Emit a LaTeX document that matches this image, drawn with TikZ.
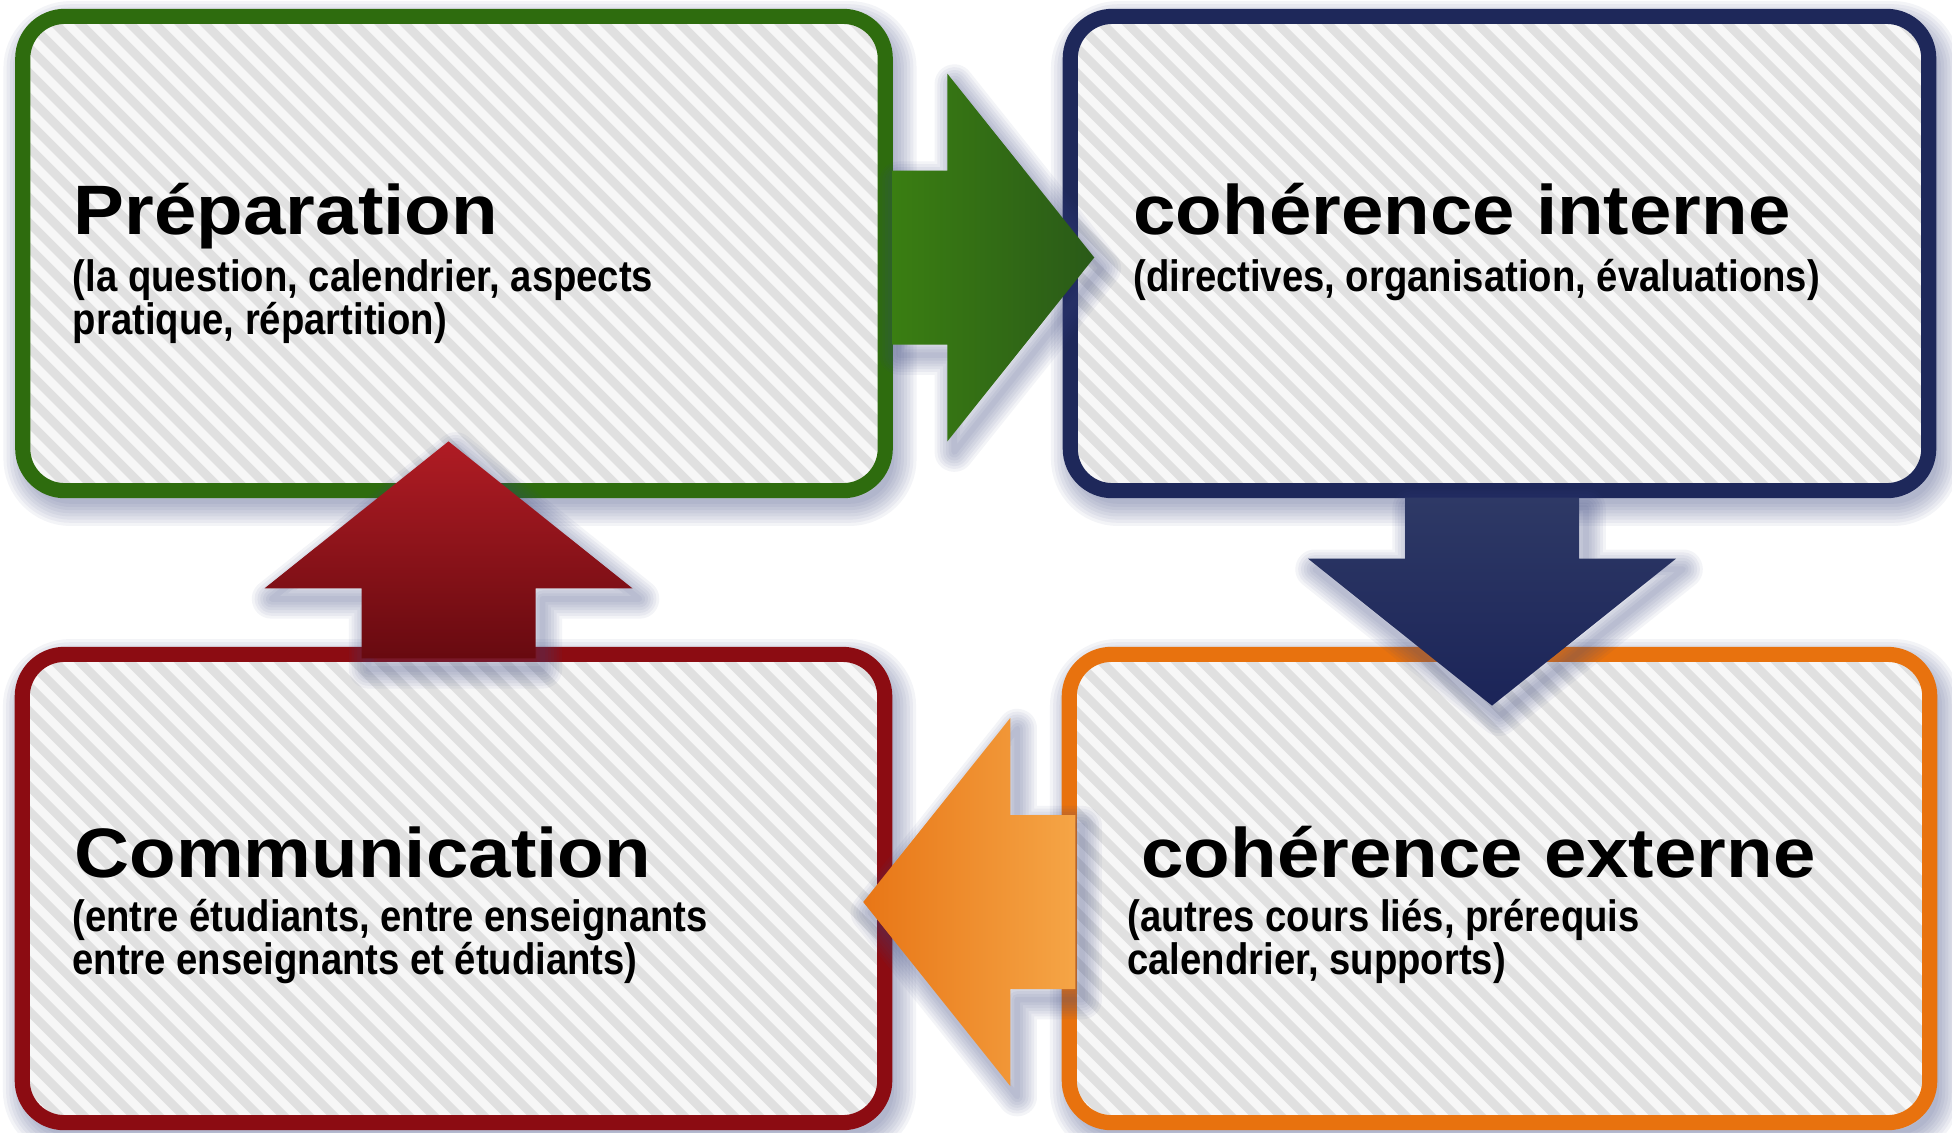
\documentclass[tikz,border=0pt]{standalone}
\usepackage{fontspec}
\setmainfont{Liberation Sans}
\newfontfamily\titlefont{Liberation Sans}[FakeStretch=1.09]
\newfontfamily\subfont{Liberation Sans}[FakeStretch=0.87]
\usepackage{tikz}
\usetikzlibrary{calc,positioning,backgrounds}
\definecolor{prepgreen}{RGB}{46,108,14}
\definecolor{interblue}{RGB}{30,40,90}
\definecolor{externorange}{RGB}{232,114,14}
\definecolor{commred}{RGB}{140,12,18}
\definecolor{shadowblue}{RGB}{60,72,130}
\definecolor{stripegray}{RGB}{224,224,224}
\newcommand{\rim}{4.3pt}
\newcommand{\corner}{0.42cm}

\tikzset{
  box/.style={draw=#1, line width=\rim, rounded corners=\corner, fill=white!97!black,
    inner sep=0pt, outer sep=0pt, minimum width=8.62cm, minimum height=4.74cm,
    path picture={
      \foreach \s in {-500,-475,...,900}
        \draw[stripegray, line width=2.5pt] ($(path picture bounding box.north west)+(\s,0)$) -- ++(520,520);
    }},
  title/.style={anchor=base west, inner sep=0pt, font={\titlefont\bfseries\fontsize{19.9pt}{24pt}\selectfont}},
  sub/.style={anchor=base west, inner sep=0pt, align=left, font={\subfont\bfseries\fontsize{12.5pt}{12.2pt}\selectfont}},
  pics/bigarrow/.style 2 args={code={
    \foreach \k in {1,...,7}
      \draw[shadowblue, opacity=0.06, line width=\k*1.6pt, line join=round, transform canvas={shift={(2pt,-3pt)}}]
        (0,-87) -- (#1,-87) -- (#1,-184) -- ({#1+147},0) -- (#1,184) -- (#1,87) -- (0,87) -- cycle;
    \shade[#2] (0,-87) -- (#1,-87) -- (#1,-184) -- ({#1+147},0) -- (#1,184) -- (#1,87) -- (0,87) -- cycle;
  }}
}

\newcommand{\softshadow}[1]{%
  \foreach \k in {1,...,8}
    \draw[shadowblue, opacity=0.06, line width=\k*1.8pt, rounded corners=\corner]
      ($(#1.north west)+(6,10)$) rectangle ($(#1.south east)+(6,10)$);
}

\begin{document}
\begin{tikzpicture}[x=0.01cm, y=-0.01cm]
  %\draw[help lines] (0,0) grid[step=100] (1952,1132);
  \useasboundingbox (0,0) rectangle (1952,1132);

  \node[box=prepgreen] (prep) at (454,253.5) {};
  \node[box=interblue, minimum width=8.58cm] (intern) at (1499.5,253.5) {};
  \node[box=commred, minimum height=4.68cm] (comm) at (453.5,888.5) {};
  \node[box=externorange, minimum width=8.6cm, minimum height=4.68cm] (extern) at (1499.5,888.5) {};

  \begin{scope}[on background layer]
    \fill[white] (0,0) rectangle (1952,1132);
    \softshadow{prep}
    \softshadow{intern}
    \softshadow{comm}
    \softshadow{extern}
  \end{scope}

  % two-line texts sit on the baseline of their last line
  \node[title] (prept) at ($(prep.north west)+(50.5,218.5)$) {Préparation};
  \node[sub] (preps) at ($(prep.north west)+(49.5,318)$) {(la question, calendrier, aspects\\pratique, répartition)};
  \node[title] (internt) at ($(intern.north west)+(62.5,218.5)$) {cohérence interne};
  \node[sub] (interns) at ($(intern.north west)+(62.5,275.5)$) {(directives, organisation, évaluations)};
  \node[title] (commt) at ($(comm.north west)+(51.5,223.5)$) {Communication};
  \node[sub] (comms) at ($(comm.north west)+(49.5,320.5)$) {(entre étudiants, entre enseignants\\entre enseignants et étudiants)};
  \node[title] (externt) at ($(extern.north west)+(71.5,223.5)$) {cohérence externe};
  \node[sub] (externs) at ($(extern.north west)+(57.5,320.5)$) {(autres cours liés, prérequis\\calendrier, supports)};

  \pic at ($(prep.east)+(7,4)$) {bigarrow={55}{left color={rgb,255:red,58;green,126;blue,18}, right color={rgb,255:red,42;green,90;blue,24}}};
  \pic[rotate=-90] at ($(intern.south)+(-7.5,7)$) {bigarrow={61}{top color={rgb,255:red,46;green,57;blue,102}, bottom color={rgb,255:red,27;green,36;blue,88}}};
  \pic[rotate=180] at ($(extern.west)+(6,13.5)$) {bigarrow={65}{left color={rgb,255:red,232;green,118;blue,22}, right color={rgb,255:red,245;green,165;blue,70}}};
  \pic[rotate=90] at ($(comm.north)+(-5,4)$) {bigarrow={70}{top color={rgb,255:red,176;green,28;blue,36}, bottom color={rgb,255:red,104;green,10;blue,16}}};
\end{tikzpicture}
\end{document}
